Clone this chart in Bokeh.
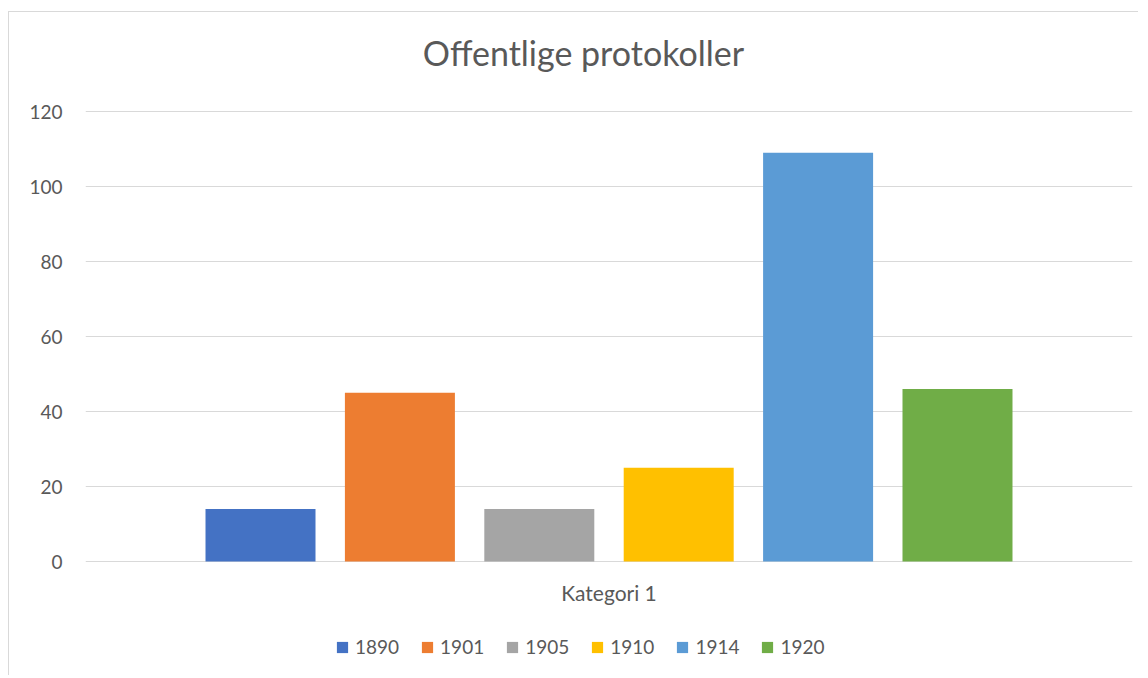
from bokeh.plotting import figure
from bokeh.models import (ColumnDataSource, Legend, LegendItem, FactorRange, Range1d,
                          FixedTicker, Label)
from bokeh.transform import dodge
from bokeh.embed import file_html
from bokeh.resources import INLINE

# ---- data ----
title_text = "Offentlige protokoller"
category = ["Kategori 1"]
series = ["1890", "1901", "1905", "1910", "1914", "1920"]
values = [14, 45, 14, 25, 109, 46]
colors = ["#4472C4", "#ED7D31", "#A5A5A5", "#FFC000", "#5B9BD5", "#70AD47"]
y_ticks = [0, 20, 40, 60, 80, 100, 120]

FONT = "Lato"
TXT = "#595959"

# ---- layout constants (pixels) ----
W, H = 1130, 664
FRAME_LEFT, FRAME_RIGHT = 76, 7
Y0_PX, Y120_PX = 549, 99            # canvas y of value 0 and 120
ppu = (Y0_PX - Y120_PX) / 120.0      # pixels per unit
y_lo = -(H - Y0_PX) / ppu
y_hi = 120 + Y120_PX / ppu

src = ColumnDataSource({"cat": category, **{s: [v] for s, v in zip(series, values)}})

p = figure(width=W, height=H, x_range=FactorRange(*category),
           y_range=Range1d(y_lo, y_hi), output_backend="svg", toolbar_location=None,
           min_border_left=FRAME_LEFT, min_border_right=FRAME_RIGHT,
           min_border_top=0, min_border_bottom=0)
p.styles = {"border-left": "1px solid #d9d9d9", "border-top": "1px solid #d9d9d9",
            "margin-left": "8px", "margin-top": "11px"}
p.background_fill_color = "white"
p.border_fill_color = "white"
p.outline_line_color = None

step = 0.13314
bw = 0.10506
items = []
for i, (s, c) in enumerate(zip(series, colors)):
    r = p.vbar(x=dodge("cat", (i - 2.5) * step, range=p.x_range), top=s, width=bw,
               source=src, fill_color=c, line_color=None)
    items.append(LegendItem(label=s, renderers=[r]))

# title (inside the frame, above the 120 gridline)
p.add_layout(Label(x=0.4756, y=135.7, text=title_text, text_font=FONT,
                   text_font_size="34px", text_color=TXT,
                   text_align="center", text_baseline="alphabetic"))

# axes
p.yaxis.ticker = FixedTicker(ticks=y_ticks)
p.yaxis.axis_line_color = None
p.yaxis.major_tick_line_color = None
p.yaxis.minor_tick_line_color = None
p.yaxis.major_tick_out = 0
p.yaxis.major_tick_in = 0
p.yaxis.major_label_standoff = 23
p.yaxis.major_label_text_font = FONT
p.yaxis.major_label_text_font_size = "19px"
p.yaxis.major_label_text_color = TXT

p.xaxis.fixed_location = 0
p.xaxis.axis_line_color = None
p.xaxis.major_tick_line_color = None
p.xaxis.major_tick_out = 0
p.xaxis.major_tick_in = 0
p.xaxis.major_label_standoff = 18
p.xaxis.major_label_text_font = FONT
p.xaxis.major_label_text_font_size = "21px"
p.xaxis.major_label_text_color = TXT

p.xgrid.grid_line_color = None
p.ygrid.ticker = FixedTicker(ticks=y_ticks)
p.ygrid.grid_line_color = "#d9d9d9"
p.ygrid.grid_line_width = 1.2

legend = Legend(items=items, orientation="horizontal", location=(250, 18),
                glyph_width=14, glyph_height=14, label_standoff=6, spacing=21,
                padding=0, margin=0, border_line_color=None, background_fill_alpha=0,
                label_text_font=FONT, label_text_font_size="19px", label_text_color=TXT)
p.add_layout(legend, "center")

open("out.html", "w").write(file_html(p, INLINE))
